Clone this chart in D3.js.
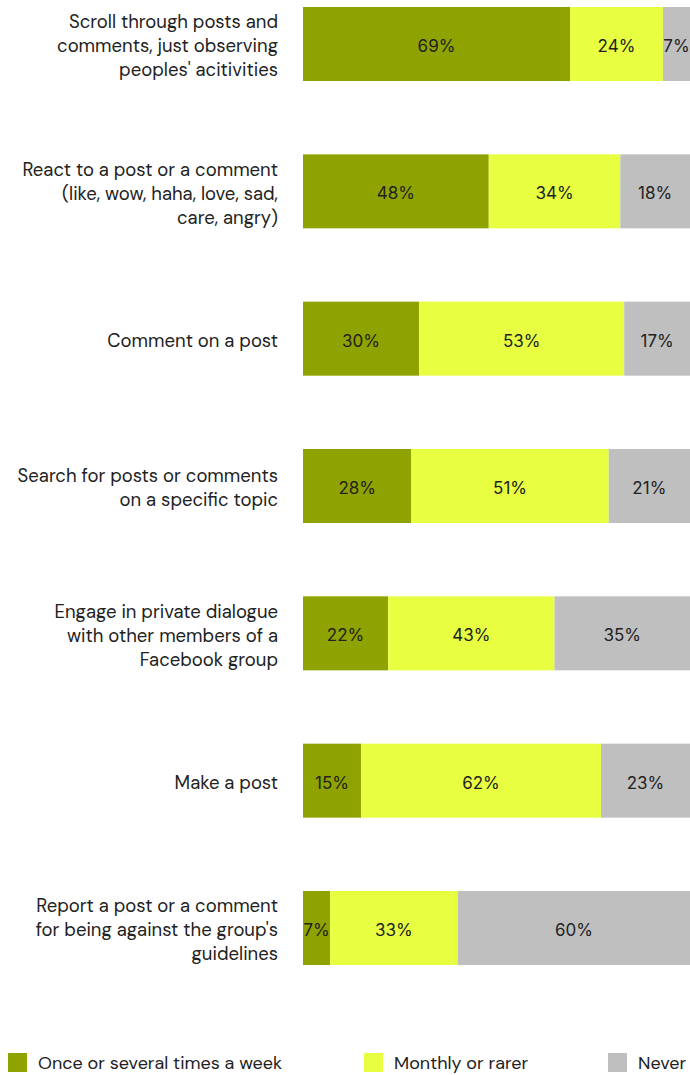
<!DOCTYPE html>
<html>
<head>
<meta charset="utf-8">
<script src="https://cdn.jsdelivr.net/npm/d3@7"></script>
<style>
  html, body { margin: 0; padding: 0; background: #fff; }
  svg { display: block; font-family: "DM Sans", Inter, "Noto Sans", sans-serif; }
</style>
</head>
<body>
<svg id="chart" width="690" height="1075"></svg>
<script>
"use strict";

// activities, each label split into its printed lines
var categories = [
  ["Scroll through posts and", "comments, just observing", "peoples' acitivities"],
  ["React to a post or a comment", "(like, wow, haha, love, sad,", "care, angry)"],
  ["Comment on a post"],
  ["Search for posts or comments", "on a specific topic"],
  ["Engage in private dialogue", "with other members of a", "Facebook group"],
  ["Make a post"],
  ["Report a post or a comment", "for being against the group's", "guidelines"]
];

var series = ["Once or several times a week", "Monthly or rarer", "Never"];
var colours = ["#8fa300", "#e8ff41", "#bfbfbf"];

var weekly  = [69, 48, 30, 28, 22, 15, 7];
var monthly = [24, 34, 53, 51, 43, 62, 33];
var never   = [7, 18, 17, 21, 35, 23, 60];

var rows = categories.map(function (c, i) {
  return { id: i, label: c, weekly: weekly[i], monthly: monthly[i], never: never[i] };
});

var svg = d3.select("#chart");

var x = d3.scaleLinear().domain([0, 100]).range([303, 690]);
var y = d3.scaleBand()
  .domain(rows.map(function (d) { return d.id; }))
  .range([7, 965])
  .paddingInner(0.4977)
  .paddingOuter(0);

var stacked = d3.stack().keys(["weekly", "monthly", "never"])(rows);

var layers = svg.selectAll("g.layer")
  .data(stacked)
  .enter().append("g")
  .attr("class", "layer")
  .attr("fill", function (d, i) { return colours[i]; });

layers.selectAll("rect")
  .data(function (d) { return d; })
  .enter().append("rect")
  .attr("x", function (d) { return x(d[0]); })
  .attr("width", function (d) { return x(d[1]) - x(d[0]); })
  .attr("y", function (d) { return y(d.data.id); })
  .attr("height", y.bandwidth());

layers.selectAll("text")
  .data(function (d) { return d; })
  .enter().append("text")
  .attr("x", function (d) { return (x(d[0]) + x(d[1])) / 2; })
  .attr("y", function (d) { return y(d.data.id) + y.bandwidth() / 2 + 2; })
  .attr("dy", "0.36em")
  .attr("text-anchor", "middle")
  .attr("fill", "#222")
  .style("font-family", "Inter, sans-serif")
  .style("font-size", "17px")
  .text(function (d) { return Math.round(d[1] - d[0]) + "%"; });

// category labels, right aligned against the bars
var lineH = 24;
svg.append("g").selectAll("text")
  .data(rows)
  .enter().append("text")
  .attr("text-anchor", "end")
  .attr("fill", "#222")
  .style("font-size", "18.5px")
  .each(function (d) {
    var cy = y(d.id) + y.bandwidth() / 2 + 2,
        n = d.label.length,
        t = d3.select(this);
    d.label.forEach(function (line, k) {
      t.append("tspan")
        .attr("x", 278)
        .attr("y", cy + (k - (n - 1) / 2) * lineH)
        .attr("dy", "0.35em")
        .text(line);
    });
  });

// legend
var legendX = [8, 364, 608];
var legend = svg.append("g").selectAll("g")
  .data(series)
  .enter().append("g")
  .attr("transform", function (d, i) { return "translate(" + legendX[i] + ",1053)"; });

legend.append("rect")
  .attr("width", 19)
  .attr("height", 19)
  .attr("fill", function (d, i) { return colours[i]; });

legend.append("text")
  .attr("x", 30)
  .attr("y", 10)
  .attr("dy", "0.35em")
  .attr("fill", "#222")
  .style("font-size", "18px")
  .text(function (d) { return d; });
</script>
</body>
</html>
